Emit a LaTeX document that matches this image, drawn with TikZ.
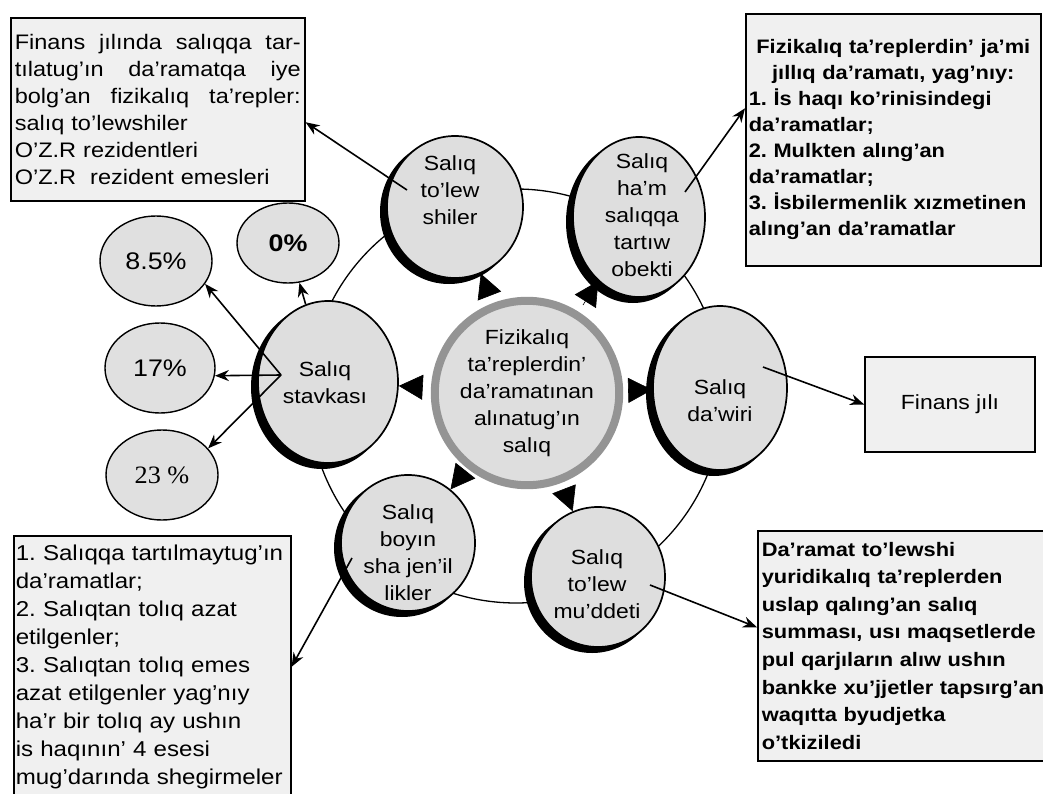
\documentclass[tikz,border=0pt]{standalone}
\usepackage{fontspec}
\setmainfont{Liberation Sans}[FakeStretch=1.12]
\newfontfamily\pctserif{Liberation Serif}[FakeStretch=1.05]
\usetikzlibrary{shapes.geometric,arrows.meta}
\frenchspacing
\newcommand{\justline}[1]{\hbox to 286pt{#1}}
\tikzset{
  sat/.style={ellipse, draw, line width=1.7pt, fill=black!13},
  satshadow/.style={fill=black},
  pct/.style={ellipse, draw, line width=1.4pt, fill=black!12, inner sep=0pt,
    font=\fontsize{24}{28}\selectfont},
  boxed/.style={draw, line width=1.6pt, fill=black!6, inner sep=0pt, align=left},
  lbl/.style={align=center, inner sep=0pt, font=\fontsize{20.5}{27}\selectfont},
  arr/.style={line width=1.6pt, -{Stealth[length=14pt,width=11pt]}},
  tri/.style={line width=0.6pt, shorten <=8pt, -{Triangle[length=24pt,width=25pt]}},
}
\begin{document}
\begin{tikzpicture}[x=1pt,y=-1pt]
\useasboundingbox (0,0) rectangle (1043,794);
\fill[white] (0,0) rectangle (1043,794);

% ring linking the satellites
\coordinate (rc) at (516,396);
\draw[line width=1.3pt] (rc) circle[radius=207];

% shadows of the satellite ellipses (offset left and down)
\foreach \cx/\cy/\rx/\ry in {455/207/68/71, 639/217/66/80, 720/388/67/82,
                             598/577/67/70, 408/543/67/68, 328/382/70/81}
  \fill[satshadow] (\cx-6,\cy+5) ellipse[x radius=\rx pt+1pt, y radius=\ry pt+1pt];

% satellite ellipses
\node[sat, minimum width=136, minimum height=142] (shiler) at (455,207) {};
\node[sat, minimum width=132, minimum height=160] (ham) at (639,217) {};
\node[sat, minimum width=134, minimum height=164] (dawiri) at (720,388) {};
\node[sat, minimum width=134, minimum height=140] (muddeti) at (598,577) {};
\node[sat, minimum width=134, minimum height=136] (boyin) at (408,543) {};
\node[sat, minimum width=140, minimum height=162] (stavka) at (328,382) {};

\node[lbl] (shilerT) at (450,190) {Salıq\\to'lew\\shiler};
\node[lbl] (hamT) at (642,215) {Salıq\\ha'm\\salıqqa\\tartıw\\obekti};
\node[lbl] (dawiriT) at (720,401) {Salıq\\da'wiri};
\node[lbl] (muddetiT) at (597,584) {Salıq\\to'lew\\mu'ddeti};
\node[lbl] (boyinT) at (408,553) {Salıq\\boyın\\sha jen'il\\likler};
\node[lbl] (stavkaT) at (325,383) {Salıq\\stavkası};

% centre
\node[circle, draw=black!42, line width=8pt, fill=black!13, minimum size=176,
      lbl] (c) at (527,393) {Fizikalıq\\ta'replerdin'\\da'ramatınan\\alınatug'ın\\salıq};

\foreach \s in {shiler,ham,dawiri,muddeti,boyin,stavka}
  \draw[tri] (c) -- (\s);

% rate ellipses
\node[pct, minimum width=102, minimum height=80] (p0) at (288,243) {\bfseries 0\%};
\node[pct, minimum width=112, minimum height=90] (p85) at (156,261) {8.5\%};
\node[pct, minimum width=110, minimum height=90] (p17) at (160,368) {17\%};
\node[pct, minimum width=112, minimum height=90] (p23) at (162,475) {\pctserif\fontsize{25}{28}\selectfont 23 \%};

% boxes
\node[boxed, anchor=north west, minimum width=294, minimum height=183, text width=286,
      font=\fontsize{21}{27}\selectfont] (tl) at (10,17)
 {\justline{Finans\hfill jılında\hfill salıqqa\hfill tar-}
  \justline{tılatug'ın\hfill da'ramatqa\hfill iye}
  \justline{bolg'an\hfill fizikalıq\hfill ta'repler:}
  salıq to'lewshiler\\
  O'Z.R rezidentleri\\
  O'Z.R\ \ rezident emesleri};

\node[boxed, anchor=north west, minimum width=295, minimum height=252, text width=289,
      font=\bfseries\fontsize{19.5}{26}\selectfont] (tr) at (745,13)
 {\makebox[289pt][c]{Fizikalıq ta'replerdin' ja'mi}\\
  \makebox[289pt][c]{jıllıq da'ramatı, yag'nıy:}\\
  1. İs haqı ko'rinisindegi\\
  da'ramatlar;\\
  2. Mulkten alıng'an\\
  da'ramatlar;\\
  3. İsbilermenlik xızmetinen\\
  alıng'an da'ramatlar};

\node[boxed, anchor=north west, minimum width=277, minimum height=262, text width=273,
      font=\fontsize{21.5}{28}\selectfont] (bl) at (13,535)
 {\mbox{1. Salıqqa tartılmaytug'ın}\\
  da'ramatlar;\\
  \mbox{2. Salıqtan tolıq azat}\\
  etilgenler;\\
  \mbox{3. Salıqtan tolıq emes}\\
  \mbox{azat etilgenler yag'nıy}\\
  \mbox{ha'r bir tolıq ay ushın}\\
  \mbox{is haqının' 4 esesi}\\
  \mbox{mug'darında shegirmeler}};

\node[boxed, anchor=north west, minimum width=300, minimum height=230, text width=292,
      font=\bfseries\fontsize{19.5}{27.6}\selectfont] (br) at (757,530)
 {Da'ramat to'lewshi\\
  yuridikalıq ta'replerden\\
  uslap qalıng'an salıq\\
  \mbox{summası, usı maqsetlerde}\\
  pul qarjıların alıw ushın\\
  \mbox{bankke xu'jjetler tapsırg'an}\\
  waqıtta byudjetka\\
  o'tkiziledi};

\node[boxed, align=center, minimum width=170, minimum height=95,
      font=\fontsize{20.5}{27}\selectfont] (fin) at (950,404.5) {Finans jılı};

% arrows
\coordinate (s1) at (407,190);
\coordinate (s2) at (685,192);
\coordinate (s3) at (763,367);
\coordinate (s4) at (650,585);
\coordinate (s5) at (352,558);
\coordinate (sv) at (281,375);
\draw[arr] (s1) -- (tl.-5);
\draw[arr] (s2) -- (tr.168);
\draw[arr] (s3) -- (fin.west);
\draw[arr] (s4) -- (br.173);
\draw[arr] (s5) -- (bl.east);
\draw[arr] (stavka) -- (p0);
\draw[arr] (sv) -- (p85.-25);
\draw[arr] (sv) -- (p17.-8);
\draw[arr] (sv) -- (p23.30);
\end{tikzpicture}
\end{document}
